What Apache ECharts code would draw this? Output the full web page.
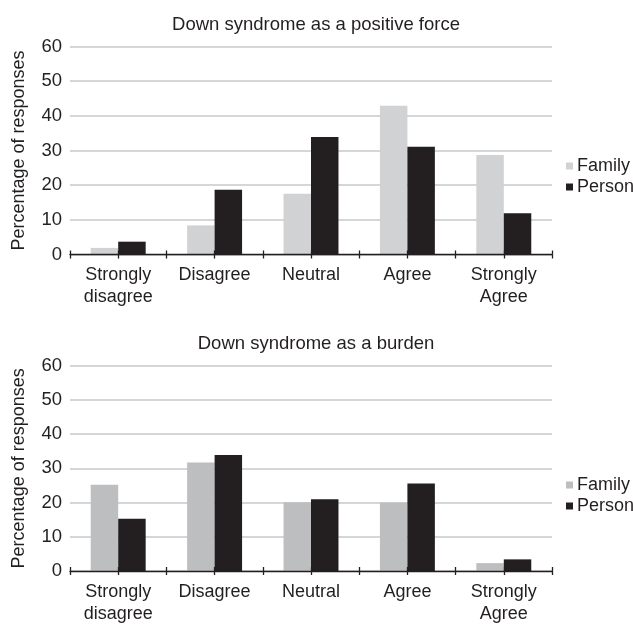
<!DOCTYPE html>
<html>
<head>
<meta charset="utf-8">
<script src="https://cdn.jsdelivr.net/npm/echarts@6/dist/echarts.min.js"></script>
<style>
  html, body { margin: 0; padding: 0; background: #fff; }
  #chart { width: 633px; height: 625px; }
</style>
</head>
<body>
<div id="chart"></div>
<script>
const categories = ['Strongly\ndisagree', 'Disagree', 'Neutral', 'Agree', 'Strongly\nAgree'];
const seriesNames = ['Family', 'Person'];
const titles = ['Down syndrome as a positive force', 'Down syndrome as a burden'];
const yTicks = [0, 10, 20, 30, 40, 50, 60];

// positive force
const positiveFamily = [1.9, 8.4, 17.5, 42.9, 28.7];
const positivePerson = [3.7, 18.7, 33.9, 31.1, 11.9];
// burden
const burdenFamily = [25.2, 31.7, 20.1, 20.0, 2.3];
const burdenPerson = [15.3, 33.9, 21.0, 25.6, 3.4];

const ink = '#231f20';
const familyColors = ['#d1d2d4', '#bcbec0'];
const gridLine = '#c7c8ca';
const font = 'Liberation Sans';

const panels = [
  { top: 46.5, height: 208, family: positiveFamily, person: positivePerson, legendTop: 152, titleTop: 10 },
  { top: 365.7, height: 207, family: burdenFamily, person: burdenPerson, legendTop: 471, titleTop: 329 },
];

const chart = echarts.init(document.getElementById('chart'), null, { renderer: 'canvas' });

const grid = [], xAxis = [], yAxis = [], series = [], legend = [], title = [];

panels.forEach((p, i) => {
  grid.push({ left: 70, right: 81, top: p.top, height: p.height });

  title.push({
    text: titles[i],
    left: 311,
    textAlign: 'center',
    top: p.titleTop,
    textStyle: { fontFamily: font, fontSize: 18.5, fontWeight: 'normal', color: ink },
  });

  // main category axis: line + labels
  xAxis.push({
    type: 'category',
    gridIndex: i,
    data: categories,
    axisLine: { lineStyle: { color: ink, width: 1.3 } },
    axisTick: { show: false },
    axisLabel: { fontFamily: font, fontSize: 18, color: ink, margin: 10, lineHeight: 22, interval: 0 },
    z: 5,
  });
  // crossing ticks at every half category (outside + inside)
  [false, true].forEach((inside) => {
    xAxis.push({
      type: 'value',
      gridIndex: i,
      position: 'bottom',
      min: 0,
      max: 10,
      interval: 1,
      axisLine: { show: false },
      axisLabel: { show: false },
      splitLine: { show: false },
      axisTick: { show: true, inside, length: 4, lineStyle: { color: ink, width: 1.3 } },
      z: 6,
    });
  });

  yAxis.push({
    type: 'value',
    gridIndex: i,
    min: yTicks[0],
    max: yTicks[yTicks.length - 1],
    interval: 10,
    name: 'Percentage of responses',
    nameLocation: 'middle',
    nameGap: 42,
    nameTextStyle: { fontFamily: font, fontSize: 18, color: ink },
    axisLine: { show: false },
    axisTick: { show: false },
    axisLabel: { fontFamily: font, fontSize: 18.5, color: ink, margin: 8 },
    splitLine: { lineStyle: { color: gridLine, width: 1.5 } },
  });

  series.push({
    name: 'Family',
    type: 'bar',
    xAxisIndex: i * 3,
    yAxisIndex: i,
    data: p.family,
    barWidth: '28.5%',
    barGap: '0%',
    itemStyle: { color: familyColors[i] },
  });
  series.push({
    name: 'Person',
    type: 'bar',
    xAxisIndex: i * 3,
    yAxisIndex: i,
    data: p.person,
    barWidth: '28.5%',
    barGap: '0%',
    itemStyle: { color: ink },
  });

  legend.push({
    orient: 'vertical',
    left: 561,
    top: p.legendTop,
    itemWidth: 7,
    itemHeight: 7,
    itemGap: 3,
    icon: 'rect',
    selectedMode: false,
    textStyle: { fontFamily: font, fontSize: 18, color: ink, padding: [0, 0, 0, -1] },
    data: [
      { name: seriesNames[0], itemStyle: { color: familyColors[i] } },
      { name: seriesNames[1], itemStyle: { color: ink } },
    ],
  });
});

chart.setOption({
  animation: false,
  backgroundColor: '#fff',
  title,
  grid,
  xAxis,
  yAxis,
  legend,
  series,
});
</script>
</body>
</html>
